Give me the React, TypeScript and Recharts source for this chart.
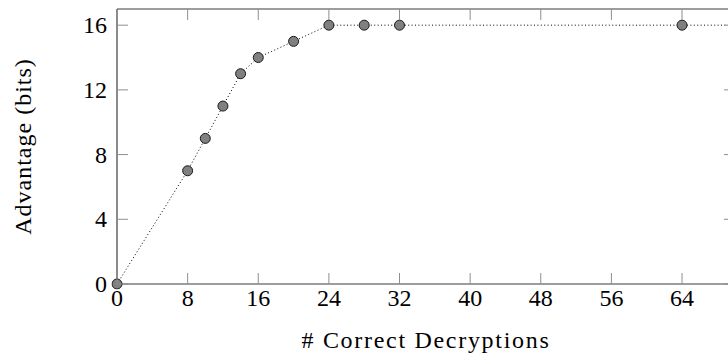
import React from 'react';
import { LineChart, Line, XAxis, YAxis, ReferenceLine } from 'recharts';

// values
const decryptions = [0, 8, 10, 12, 14, 16, 20, 24, 28, 32, 64, 128];
const advantageBits = [0, 7, 9, 11, 13, 14, 15, 16, 16, 16, 16, 16];
const xTicks = [0, 8, 16, 24, 32, 40, 48, 56, 64];
const yTicks = [0, 4, 8, 12, 16];

const data = decryptions.map((d, i) => ({ d, adv: advantageBits[i] }));

const FONT = '"Liberation Serif", "DejaVu Serif", serif';
const FRAME = '#3c3c3c';
const TICK = '#8f8f8f';
const TICK_LEN = 11;

const CHART_W = 745;
const CHART_H = 356;
const MARGIN = { top: 9, right: 10, left: 0, bottom: 0 };
const Y_AXIS_W = 117;
const X_AXIS_H = 72;
const PLOT_TOP = MARGIN.top;
const PLOT_RIGHT = CHART_W - MARGIN.right;

const XTick = ({ x, y, payload }: any) => (
    <g>
        <line x1={x} x2={x} y1={y} y2={y - TICK_LEN} stroke={TICK} />
        <line x1={x} x2={x} y1={PLOT_TOP} y2={PLOT_TOP + TICK_LEN} stroke={TICK} />
        <text x={x} y={y + 22} textAnchor="middle" fontFamily={FONT} fontSize={24} fill="#000">
            {payload.value}
        </text>
    </g>
);

const YTick = ({ x, y, payload }: any) => (
    <g>
        <line x1={x} x2={x + TICK_LEN} y1={y} y2={y} stroke={TICK} />
        <line x1={PLOT_RIGHT - TICK_LEN} x2={PLOT_RIGHT} y1={y} y2={y} stroke={TICK} />
        <text x={x - 10} y={y + 8} textAnchor="end" fontFamily={FONT} fontSize={24} fill="#000">
            {payload.value}
        </text>
    </g>
);

const XLabel = ({ viewBox }: any) => (
    <text
        x={viewBox.x + viewBox.width / 2}
        y={348}
        textAnchor="middle"
        fontFamily={FONT}
        fontSize={24}
        letterSpacing={1.7}
        fill="#000"
    >
        # Correct Decryptions
    </text>
);

const YLabel = ({ viewBox }: any) => {
    const cy = viewBox.y + viewBox.height / 2;
    return (
        <text
            x={31}
            y={cy}
            transform={`rotate(-90, 31, ${cy})`}
            textAnchor="middle"
            fontFamily={FONT}
            fontSize={24}
            letterSpacing={1}
            fill="#000"
        >
            Advantage (bits)
        </text>
    );
};

export default function App() {
    return (
        <div style={{ position: 'absolute', left: 0, top: 0, width: 728, height: 356, overflow: 'hidden', background: '#fff' }}>
            <LineChart width={CHART_W} height={CHART_H} data={data} margin={MARGIN}>
                <XAxis
                    type="number"
                    dataKey="d"
                    domain={[0, 70]}
                    ticks={xTicks}
                    allowDataOverflow
                    height={X_AXIS_H}
                    tickSize={0}
                    tickMargin={0}
                    tick={<XTick />}
                    axisLine={{ stroke: FRAME, strokeWidth: 1.2 }}
                    label={<XLabel />}
                />
                <YAxis
                    type="number"
                    domain={[0, 17]}
                    ticks={yTicks}
                    width={Y_AXIS_W}
                    tickSize={0}
                    tickMargin={0}
                    tick={<YTick />}
                    axisLine={{ stroke: FRAME, strokeWidth: 1.2 }}
                    label={<YLabel />}
                />
                <ReferenceLine y={17} stroke={FRAME} strokeWidth={1.2} />
                <ReferenceLine x={70} stroke={FRAME} strokeWidth={1.2} />
                <Line
                    type="linear"
                    dataKey="adv"
                    stroke="#000"
                    strokeWidth={1}
                    strokeDasharray="1 2.4"
                    dot={{ r: 5, fill: '#808080', stroke: '#1a1a1a', strokeWidth: 1, strokeDasharray: 'none', clipDot: false }}
                    isAnimationActive={false}
                />
            </LineChart>
        </div>
    );
}
